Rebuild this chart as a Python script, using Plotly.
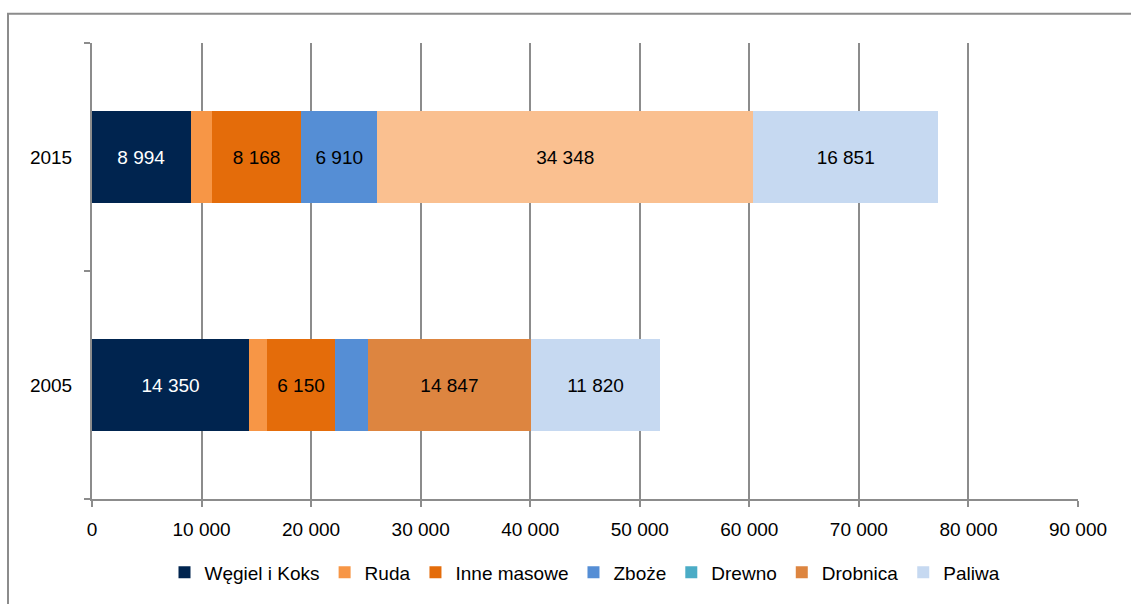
import plotly.graph_objects as go

years = ["2005", "2015"]
series = ["Węgiel i Koks", "Ruda", "Inne masowe", "Zboże", "Drewno", "Drobnica", "Paliwa"]
wegiel = [14350, 8994]
ruda = [1650, 1950]
inne = [6150, 8168]
zboze = [3050, 6910]
drewno = [0, 0]
drobnica = [14847, 34348]
paliwa = [11820, 16851]
values = [wegiel, ruda, inne, zboze, drewno, drobnica, paliwa]
shown_labels = [[True, True], [False, False], [True, True], [False, True],
                [False, False], [True, True], [True, True]]

tick_vals = [0, 10000, 20000, 30000, 40000, 50000, 60000, 70000, 80000, 90000]
tick_text = ["0", "10 000", "20 000", "30 000", "40 000", "50 000", "60 000", "70 000", "80 000", "90 000"]

colors = ["#00244F", "#F79646", "#E46C0A", "#558ED5", "#4BACC6", ["#DD8540", "#FAC090"], "#C6D9F1"]
text_colors = ["white", "black", "black", "black", "black", "black", "black"]

def fmt(v):
    return f"{v:,}".replace(",", " ")

fig = go.Figure()
for name, vals, col, tc, show in zip(series, values, colors, text_colors, shown_labels):
    fig.add_trace(go.Bar(
        y=years, x=vals, name=name, orientation="h",
        marker=dict(color=col, line=dict(width=0)),
        text=[fmt(v) if s else "" for v, s in zip(vals, show)],
        textposition="inside", insidetextanchor="middle", textangle=0,
        constraintext="none",
        textfont=dict(color=tc, size=19, family="Liberation Sans, Arial"),
        hoverinfo="skip",
    ))

W, H = 1131, 604
l, r, t, b = 92, 53, 43, 102
pw, ph = W - l - r, H - t - b
def px(x):
    return (x - l) / pw
def py(y):
    return (H - b - y) / ph

fig.update_layout(
    barmode="stack", bargap=0.6,
    width=W, height=H,
    margin=dict(l=l, r=r, t=t, b=b, pad=0),
    paper_bgcolor="white", plot_bgcolor="white",
    font=dict(family="Liberation Sans, Arial", size=19, color="black"),
    showlegend=True,
    legend=dict(orientation="h", x=0.5, xanchor="center", y=py(576), yanchor="middle",
                font=dict(size=19), itemwidth=30, traceorder="normal"),
    xaxis=dict(range=[0, 90000], tickvals=tick_vals, ticktext=tick_text,
               showgrid=True, gridcolor="#8C8C8C", gridwidth=1.5,
               showline=True, linecolor="#8C8C8C", linewidth=2,
               ticks="outside", ticklen=6, tickcolor="#8C8C8C", tickwidth=2,
               zeroline=False, ticklabelstandoff=6, fixedrange=True),
    yaxis=dict(type="category", categoryorder="array", categoryarray=years,
               range=[-0.5, 1.5], showgrid=False,
               showline=True, linecolor="#8C8C8C", linewidth=2,
               ticks="outside", ticklen=6, tickcolor="#8C8C8C", tickwidth=2,
               tickson="boundaries", ticklabelstandoff=14, fixedrange=True),
    shapes=[dict(type="rect", xref="paper", yref="paper",
                 x0=px(8), x1=px(1133), y0=py(610), y1=py(13.5),
                 line=dict(color="#8C8C8C", width=2), fillcolor="rgba(0,0,0,0)", layer="below")],
)

fig.write_html("out.html")
